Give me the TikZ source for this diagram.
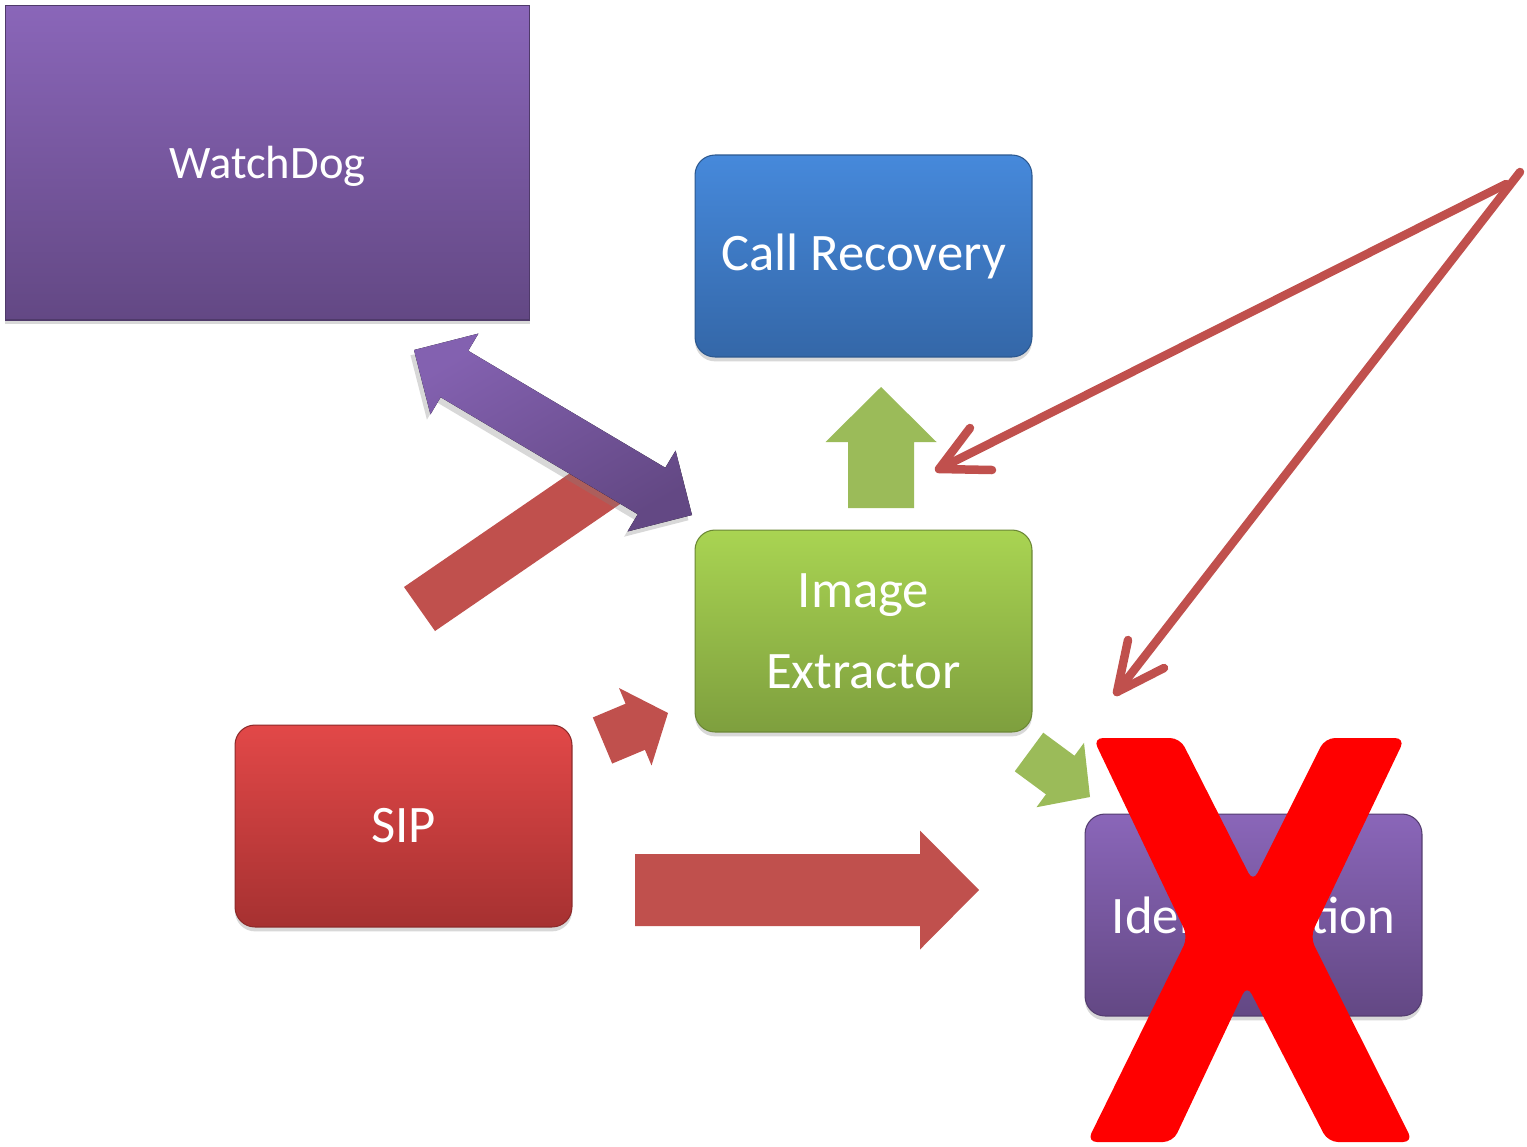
\documentclass[tikz,border=0pt]{standalone}
\usepackage{fontspec}
\setmainfont{Carlito}
\usetikzlibrary{calc,shadows}
\definecolor{arred}{HTML}{C0504D}
\definecolor{argreen}{HTML}{9BBB59}
\definecolor{purtop}{HTML}{8A66B9}
\definecolor{purbot}{HTML}{634884}
\definecolor{bluetop}{HTML}{4689DB}
\definecolor{bluebot}{HTML}{3467A8}
\definecolor{greentop}{HTML}{A9D452}
\definecolor{greenbot}{HTML}{7E9F3E}
\definecolor{redtop}{HTML}{E24848}
\definecolor{redbot}{HTML}{A63131}
\definecolor{xred}{HTML}{FF0000}
% block arrow: tail, tip, shaft half width, head half width, head length (px), style
\newcommand\blockarr[6]{%
  \coordinate (ba-h) at ($(#2)!#5*0.02cm!(#1)$);
  \fill[#6] ($(#1)!#3*0.02cm!90:(#2)$) -- ($(ba-h)!#3*0.02cm!-90:(#1)$)
    -- ($(ba-h)!#4*0.02cm!-90:(#1)$) -- (#2) -- ($(ba-h)!#4*0.02cm!90:(#1)$)
    -- ($(ba-h)!#3*0.02cm!90:(#1)$) -- ($(#1)!#3*0.02cm!-90:(#2)$) -- cycle;}
% double block arrow: end A, end B, shaft half width, head half width, head length, style
\newcommand\dblarr[6]{%
  \coordinate (da-ha) at ($(#1)!#5*0.02cm!(#2)$);
  \coordinate (da-hb) at ($(#2)!#5*0.02cm!(#1)$);
  \fill[#6] (#1) -- ($(da-ha)!#4*0.02cm!90:(#2)$) -- ($(da-ha)!#3*0.02cm!90:(#2)$)
    -- ($(da-hb)!#3*0.02cm!-90:(#1)$) -- ($(da-hb)!#4*0.02cm!-90:(#1)$) -- (#2)
    -- ($(da-hb)!#4*0.02cm!90:(#1)$) -- ($(da-hb)!#3*0.02cm!90:(#1)$)
    -- ($(da-ha)!#3*0.02cm!-90:(#2)$) -- ($(da-ha)!#4*0.02cm!-90:(#2)$) -- cycle;}
\tikzset{
  box/.style n args={3}{rounded corners=0.4cm, draw=#3, line width=0.6pt,
    top color=#1, bottom color=#2, minimum width=6.74cm, minimum height=4.04cm,
    inner sep=0pt, text=white, font=\fontsize{30}{46}\selectfont, align=center,
    drop shadow={shadow xshift=0pt, shadow yshift=-2.5pt, opacity=0.3}},
  redline/.style={draw=arred, line width=0.17cm, line cap=round, line join=round},
}
\begin{document}
\begin{tikzpicture}[x=0.02cm,y=-0.02cm]
\useasboundingbox[fill=white] (0,0) rectangle (1527,1146);

% boxes
\node[box={purtop}{purbot}{purbot!80!black}, rounded corners=0pt,
  minimum width=10.5cm, minimum height=6.3cm, text depth=0pt,
  font=\fontsize{26.5}{32}\selectfont] (watchdog) at (267.5,162.5) {WatchDog};
\node[box={bluetop}{bluebot}{bluebot!85!black}] (callrec) at (863.5,256) {Call Recovery};
\node[box={greentop}{greenbot}{greenbot!85!black}] (imgext) at (863.5,631) {Image\\Extractor};
\node[box={redtop}{redbot}{redbot!85!black}] (sip) at (403.5,826) {SIP};
\node[box={purtop}{purbot}{purbot!85!black}] (ident) at (1253.5,915) {Identification};

% red band (head hidden under purple arrow)
\fill[arred] (404,587) -- (435,631) -- (626,500) -- (595,456) -- cycle;

% purple double arrow
\coordinate (pa) at (414,350);
\coordinate (pb) at (692,515);
\dblarr{pa}{pb}{27}{47}{47}{top color=purtop!95!black, bottom color=purbot, shading angle=30,
  drop shadow={shadow xshift=-2pt, shadow yshift=-3pt, opacity=0.3}}

% green arrows
\coordinate (gu1) at (881,508);
\coordinate (gu2) at (881,387);
\blockarr{gu1}{gu2}{33}{55.5}{55}{argreen}
\coordinate (gd1) at (1029,752);
\coordinate (gd2) at (1090,797);
\blockarr{gd1}{gd2}{24}{40}{37}{argreen}

% red block arrows
\coordinate (rs1) at (602.5,740.5);
\coordinate (rs2) at (668,713);
\blockarr{rs1}{rs2}{25}{42}{35.5}{arred}
\coordinate (rb1) at (635,890);
\coordinate (rb2) at (979,890);
\blockarr{rb1}{rb2}{36}{59.5}{59}{arred}

% thin red arrows
\coordinate (l1s) at (1506,184);
\coordinate (l1t) at (939,469);
\coordinate (l1a) at (970,428);
\coordinate (l1b) at (992,470);
\coordinate (l2s) at (1520,172);
\coordinate (l2t) at (1117,692);
\coordinate (l2a) at (1128,640);
\coordinate (l2b) at (1164,668);
\draw[redline] (l1s) -- (l1t);
\draw[redline] (l1a) -- (l1t) -- (l1b);
\draw[redline] (l2s) -- (l2t);
\draw[redline] (l2a) -- (l2t) -- (l2b);

% big red X
\fill[xred, rounded corners=0.2cm] (1093,738) -- (1180,738) -- (1253,882) -- (1325,738)
  -- (1405,738) -- (1310,937) -- (1413,1142) -- (1328,1142) -- (1247,985)
  -- (1173,1142) -- (1087,1142) -- (1188,937) -- cycle;
\end{tikzpicture}
\end{document}
